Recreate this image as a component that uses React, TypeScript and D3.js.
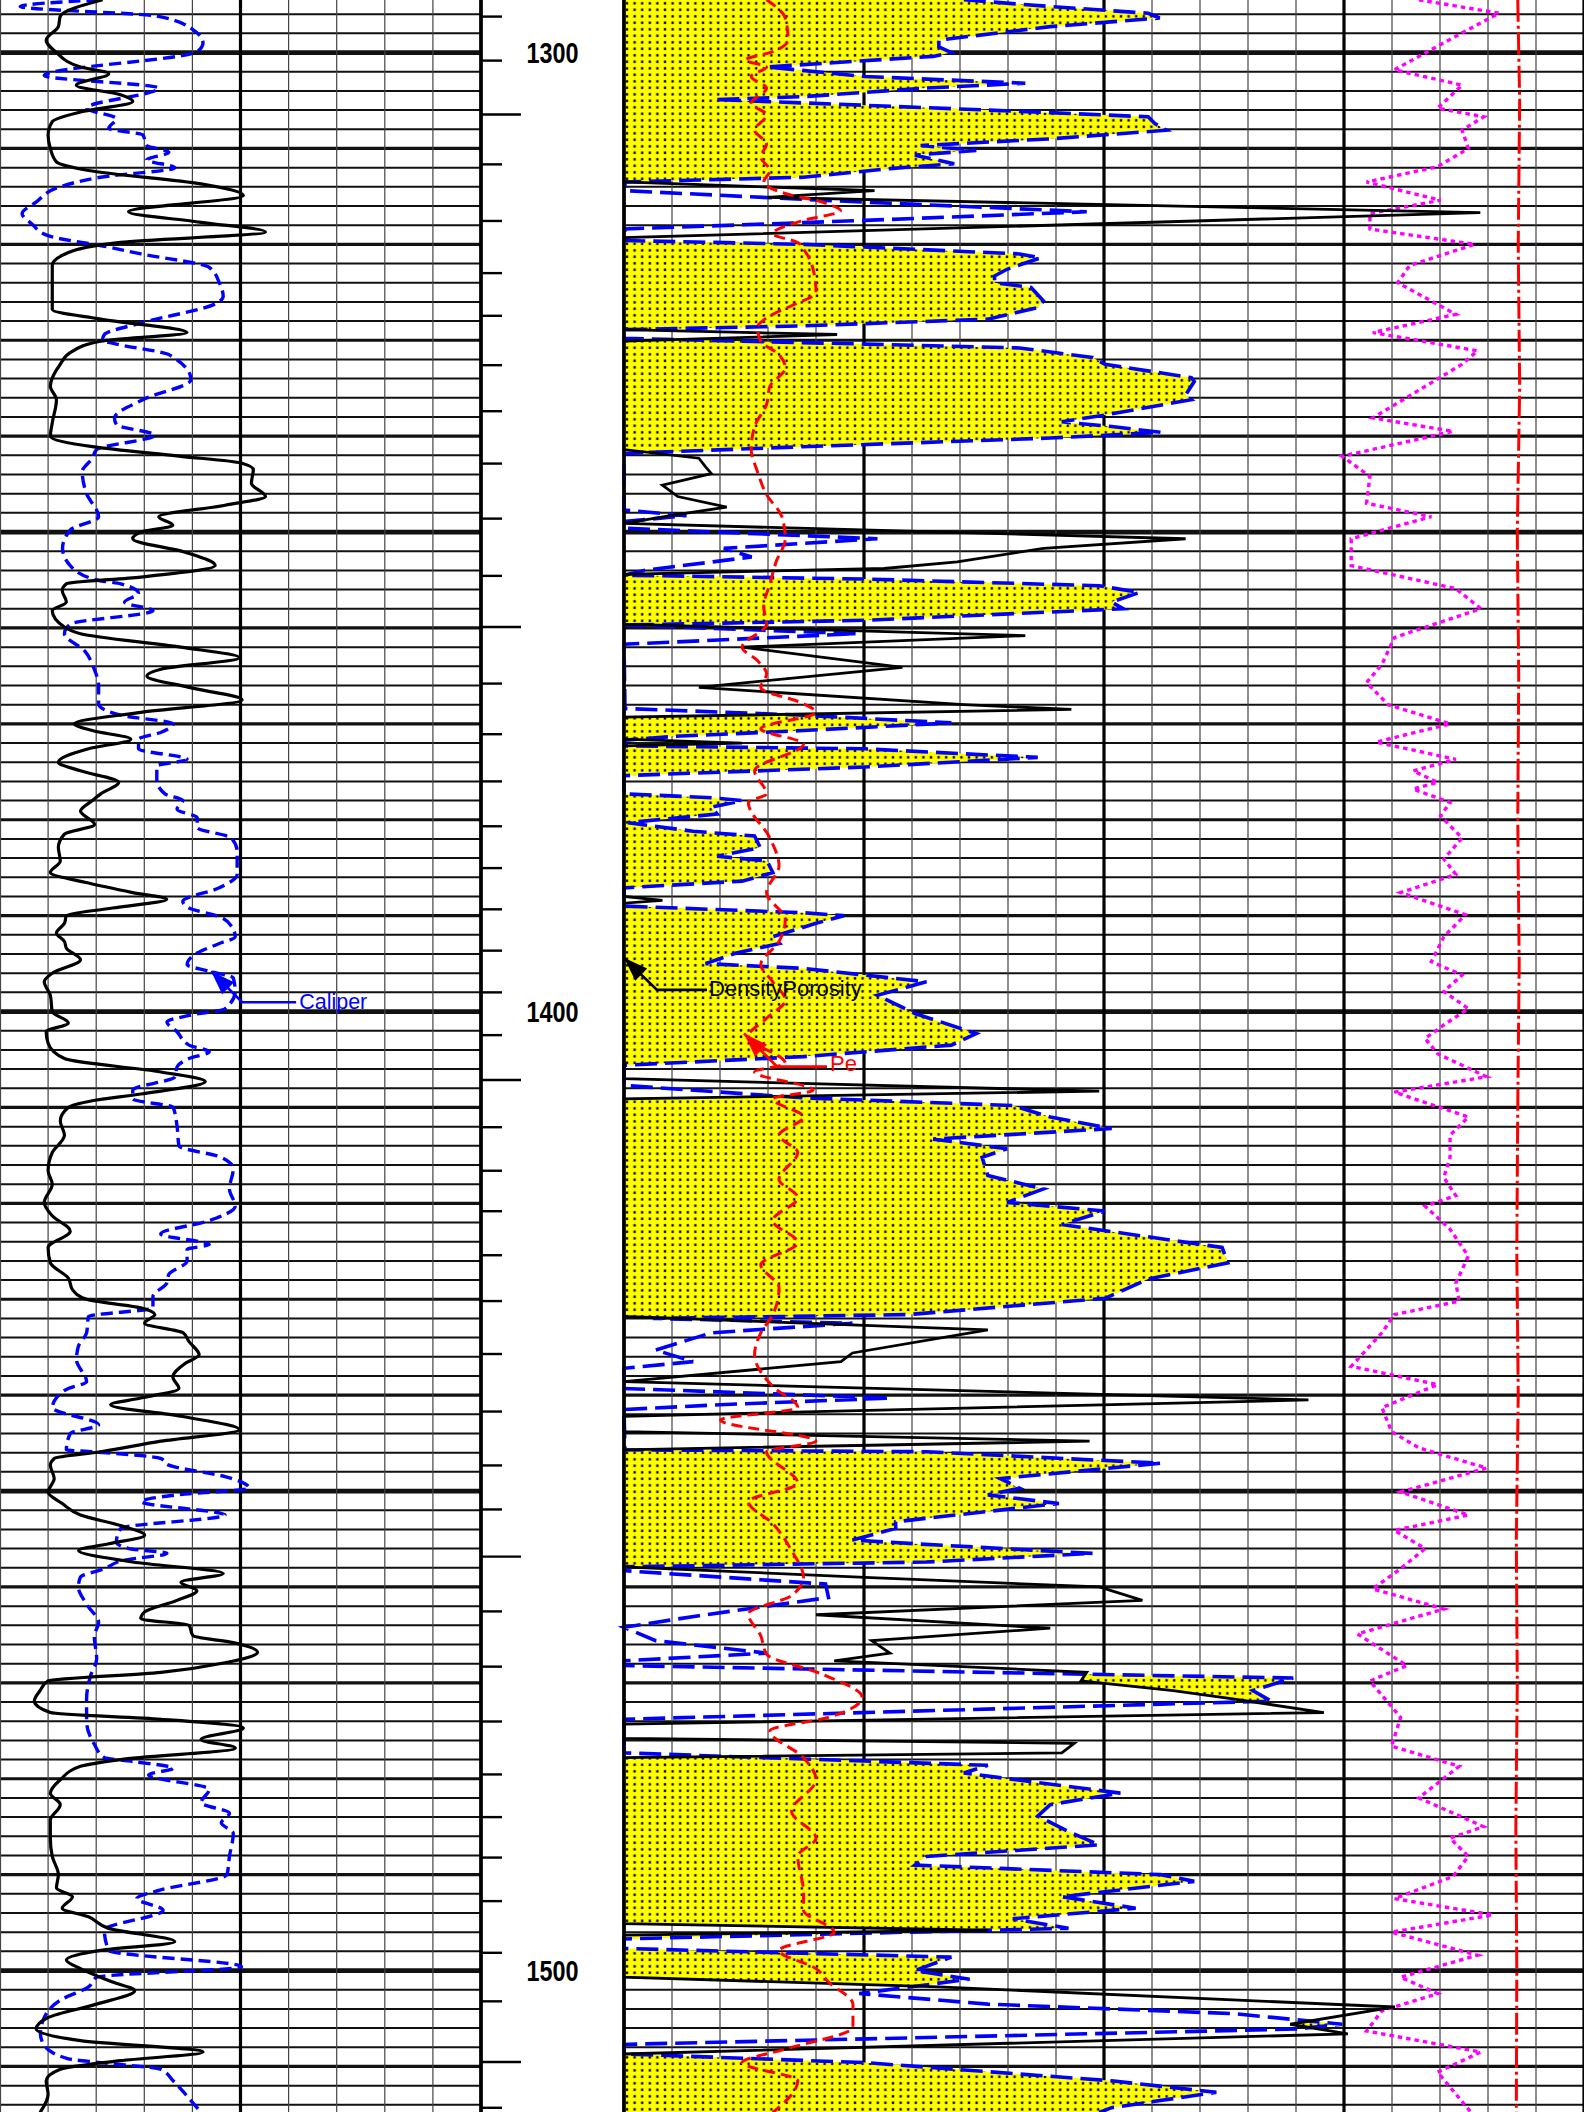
import React from 'react';
import * as d3 from 'd3';

const W = 1584;
const H = 2112;
const DEPTH_TOP = 1294.52;
const DEPTH_BOTTOM = 1514.75;

// ---------- Track 1 ----------
const gammaRay: [number, number][] = [
  [1294.5, 32.0], [1296.2, 18.8], [1297.3, 18.2], [1298.7, 14.4], [1300.0, 17.6], [1301.5, 25.1], [1302.2, 33.9],
  [1303.4, 23.8], [1304.4, 37.6], [1305.1, 41.4], [1306.2, 25.1], [1307.2, 16.3], [1308.6, 15.0], [1310.0, 15.7],
  [1311.4, 17.6], [1312.3, 27.6], [1313.7, 62.7], [1314.9, 75.9], [1316.6, 40.1], [1317.7, 62.7], [1318.7, 82.8],
  [1319.8, 37.6], [1320.7, 22.6], [1322.2, 16.3], [1324.5, 16.3], [1326.8, 16.3], [1327.8, 31.4], [1329.2, 58.3],
  [1330.1, 31.4], [1331.3, 21.9], [1332.5, 18.8], [1334.8, 15.7], [1336.2, 17.6], [1338.6, 16.3], [1340.0, 15.7],
  [1341.1, 28.8], [1342.1, 56.4], [1342.8, 75.2], [1343.5, 79.0], [1344.9, 78.4], [1346.3, 82.8], [1347.2, 70.2],
  [1348.4, 49.5], [1349.3, 53.9], [1350.0, 43.9], [1350.7, 41.4], [1352.1, 57.7], [1353.5, 67.1], [1354.7, 43.9],
  [1355.4, 20.7], [1356.1, 19.4], [1357.3, 20.7], [1358.2, 16.3], [1359.9, 20.1], [1360.6, 25.1], [1362.0, 56.4],
  [1363.1, 74.6], [1364.3, 50.2], [1365.0, 45.8], [1366.2, 58.9], [1367.5, 75.5], [1368.8, 43.9], [1370.0, 23.2],
  [1370.7, 28.8], [1371.6, 40.8], [1372.6, 27.6], [1374.0, 18.2], [1374.9, 25.1], [1376.1, 37.0], [1377.3, 31.4],
  [1378.0, 28.8], [1379.1, 25.1], [1380.5, 29.5], [1381.5, 20.1], [1382.9, 18.2], [1384.3, 18.8], [1385.5, 15.7],
  [1386.6, 27.6], [1387.6, 41.4], [1388.3, 52.0], [1389.2, 35.1], [1390.0, 20.7], [1390.8, 20.1], [1391.8, 17.6],
  [1392.7, 20.1], [1393.4, 20.7], [1394.6, 25.1], [1396.0, 16.3], [1396.9, 13.8], [1398.3, 15.7], [1400.0, 16.3],
  [1401.2, 21.3], [1402.1, 14.4], [1403.3, 15.0], [1404.9, 20.1], [1406.3, 50.2], [1407.3, 64.0], [1408.6, 43.9],
  [1409.3, 28.8], [1410.0, 21.3], [1411.4, 18.8], [1412.9, 20.1], [1414.7, 16.3], [1416.6, 15.0], [1418.0, 16.3],
  [1419.9, 13.8], [1421.3, 16.3], [1422.9, 21.9], [1424.6, 15.0], [1426.2, 15.7], [1427.8, 21.3], [1429.0, 22.6],
  [1430.0, 27.0], [1430.9, 43.9], [1431.6, 48.3], [1432.5, 45.1], [1433.5, 57.1], [1434.4, 58.9], [1435.8, 62.1],
  [1436.7, 57.7], [1438.1, 53.9], [1439.3, 55.8], [1440.3, 43.9], [1441.0, 34.5], [1442.2, 56.4], [1443.6, 74.6],
  [1444.8, 50.2], [1445.9, 31.4], [1446.6, 16.9], [1447.3, 15.7], [1448.7, 16.9], [1450.1, 15.0], [1451.3, 19.4],
  [1452.5, 25.1], [1453.6, 37.6], [1454.6, 45.1], [1455.5, 33.9], [1456.2, 24.5], [1457.4, 41.4], [1458.6, 69.6],
  [1459.5, 56.4], [1460.4, 61.4], [1461.4, 55.2], [1462.6, 45.1], [1463.3, 43.9], [1464.0, 58.9], [1465.1, 60.2],
  [1465.8, 72.7], [1466.8, 80.3], [1467.9, 70.2], [1468.9, 50.2], [1469.8, 15.0], [1470.8, 12.5], [1471.9, 10.7],
  [1473.1, 15.7], [1473.8, 50.2], [1474.7, 75.9], [1475.9, 62.7], [1476.8, 73.4], [1478.0, 37.6], [1478.7, 25.1],
  [1480.1, 18.8], [1481.5, 15.7], [1482.7, 18.8], [1484.3, 15.7], [1486.2, 15.7], [1488.1, 16.3], [1490.0, 18.2],
  [1491.4, 17.6], [1492.3, 22.6], [1493.5, 19.4], [1494.4, 27.6], [1495.6, 33.9], [1497.0, 54.5], [1497.9, 31.4],
  [1498.9, 20.7], [1499.8, 25.1], [1501.2, 35.1], [1502.1, 42.0], [1503.5, 30.1], [1504.9, 15.0], [1506.1, 11.3],
  [1507.3, 25.1], [1508.5, 63.3], [1509.4, 37.6], [1510.3, 18.8], [1511.5, 14.4], [1512.9, 15.0], [1514.8, 12.5],
];

const caliper: [number, number][] = [
  [1294.5, 8.05], [1295.2, 6.42], [1296.2, 9.26], [1297.6, 10.01], [1299.0, 10.22], [1299.9, 10.10], [1302.4, 6.92],
  [1303.7, 9.30], [1305.8, 7.80], [1306.9, 8.42], [1307.9, 8.26], [1308.6, 8.97], [1309.7, 9.05], [1310.4, 9.51],
  [1311.2, 9.05], [1312.0, 9.64], [1313.0, 8.09], [1314.0, 7.25], [1315.6, 6.75], [1316.8, 6.46], [1317.9, 6.67],
  [1319.1, 7.00], [1320.2, 8.17], [1321.0, 8.93], [1322.4, 10.35], [1324.0, 10.56], [1325.4, 10.64], [1326.1, 10.52],
  [1328.2, 8.93], [1329.4, 8.17], [1330.0, 8.13], [1330.4, 8.42], [1331.5, 9.51], [1334.1, 9.97], [1336.2, 8.97],
  [1338.1, 8.38], [1338.8, 8.42], [1339.9, 9.22], [1341.4, 8.01], [1342.3, 7.92], [1343.7, 7.71], [1346.0, 7.80],
  [1348.4, 8.05], [1349.8, 7.46], [1351.7, 7.30], [1353.5, 7.46], [1355.0, 8.01], [1355.4, 8.51], [1356.4, 8.88],
  [1357.3, 8.59], [1358.2, 9.18], [1359.6, 7.46], [1360.6, 7.34], [1362.4, 7.76], [1364.3, 7.96], [1366.0, 8.05],
  [1367.9, 8.05], [1369.1, 8.51], [1370.0, 9.60], [1370.9, 9.34], [1371.6, 8.88], [1372.6, 8.88], [1373.7, 9.89],
  [1374.4, 9.26], [1375.9, 9.26], [1377.3, 9.43], [1378.0, 9.80], [1378.9, 9.68], [1379.8, 10.10], [1380.8, 10.10],
  [1381.9, 10.81], [1383.3, 10.93], [1385.7, 10.93], [1387.1, 10.56], [1388.5, 9.80], [1389.2, 9.93], [1390.1, 10.56],
  [1391.1, 10.81], [1392.2, 10.89], [1392.9, 10.56], [1393.9, 10.10], [1395.1, 9.89], [1395.8, 10.35], [1396.5, 10.85],
  [1397.9, 10.89], [1399.7, 10.68], [1400.4, 9.93], [1401.1, 9.47], [1402.1, 9.68], [1403.5, 9.93], [1404.2, 10.35],
  [1404.9, 9.93], [1405.8, 9.68], [1406.8, 9.64], [1408.2, 8.76], [1409.1, 8.76], [1410.0, 9.60], [1411.9, 9.68],
  [1414.0, 9.72], [1415.2, 10.60], [1416.4, 10.85], [1418.5, 10.77], [1420.3, 10.89], [1421.8, 10.35], [1423.2, 9.34],
  [1424.3, 10.35], [1424.8, 9.89], [1426.0, 9.89], [1427.4, 9.51], [1428.3, 9.47], [1429.7, 9.18], [1430.9, 9.18],
  [1431.8, 7.84], [1433.5, 7.80], [1434.9, 7.63], [1436.3, 7.59], [1438.6, 7.80], [1439.3, 7.42], [1440.3, 7.17],
  [1441.3, 7.09], [1443.1, 8.05], [1444.0, 7.46], [1445.7, 7.38], [1445.9, 7.92], [1446.6, 9.34], [1447.3, 9.51],
  [1448.5, 10.68], [1449.7, 11.18], [1450.4, 9.68], [1451.1, 8.93], [1452.5, 10.68], [1453.9, 8.51], [1455.3, 8.42],
  [1456.0, 8.68], [1456.5, 9.47], [1457.2, 8.59], [1458.1, 8.17], [1459.0, 7.67], [1460.0, 7.63], [1461.8, 7.80],
  [1463.7, 8.05], [1465.1, 7.96], [1467.5, 8.01], [1469.3, 7.88], [1471.7, 7.80], [1474.0, 7.80], [1476.4, 7.96],
  [1477.8, 8.17], [1478.2, 8.76], [1478.9, 9.60], [1479.6, 9.09], [1481.1, 10.35], [1482.5, 10.18], [1483.6, 10.77],
  [1484.6, 10.60], [1485.7, 10.85], [1488.1, 10.77], [1490.0, 10.72], [1491.6, 9.34], [1492.5, 8.84], [1493.7, 9.39],
  [1495.8, 8.17], [1497.9, 8.26], [1499.6, 11.02], [1500.7, 8.01], [1501.7, 7.84], [1503.1, 7.25], [1504.9, 6.92],
  [1506.6, 6.84], [1507.8, 6.92], [1509.2, 7.42], [1509.6, 8.09], [1510.3, 9.34], [1511.5, 9.60], [1513.8, 10.01],
  [1514.8, 10.18],
];

// ---------- Track 2 ----------
const densityPorosity: [number, number][] = [
  [1294.5, 0], [1313.5, 0], [1314.4, 26.1], [1315.1, 14.9], [1316.7, 89.2], [1319.3, 0], [1328.9, 0], [1329.4, 22.2],
  [1330.1, 0], [1341.4, 0], [1342.3, 7.8], [1343.2, 8.5], [1343.9, 9.1], [1345.1, 4.0], [1346.3, 5.6], [1347.4, 10.7],
  [1348.2, 5.3], [1349.1, 0], [1350.7, 58.5], [1351.7, 43.7], [1353.1, 34.7], [1353.8, 27.1], [1354.4, 0],
  [1359.6, 0], [1360.8, 41.8], [1362.0, 12.3], [1364.1, 29.0], [1366.2, 7.8], [1368.0, 35.4], [1368.5, 46.6],
  [1369.3, 0], [1371.6, 0], [1372.0, 12.3], [1372.3, 0], [1388.0, 0], [1388.4, 4.0], [1388.7, 0], [1407.0, 0],
  [1408.3, 49.5], [1409.1, 0], [1431.8, 0], [1433.2, 37.9], [1435.6, 23.8], [1436.5, 22.6], [1438.6, 0],
  [1440.5, 71.3], [1442.2, 0], [1443.8, 0], [1444.8, 48.5], [1445.7, 0], [1457.9, 0], [1459.0, 25.1], [1460.0, 49.5],
  [1461.4, 54.0], [1462.9, 20.0], [1464.3, 44.4], [1465.6, 25.8], [1466.9, 27.7], [1467.7, 21.9], [1468.9, 48.2],
  [1469.8, 47.6], [1470.8, 57.2], [1471.7, 63.6], [1473.1, 72.9], [1474.3, 0], [1475.8, 0], [1476.3, 46.9],
  [1477.3, 45.6], [1477.8, 0], [1495.1, 0], [1495.8, 37.9], [1496.3, 0], [1500.7, 0], [1501.7, 32.8], [1503.8, 80.3],
  [1505.6, 69.4], [1506.6, 75.4], [1508.7, 0], [1514.8, 0],
];

const neutronPorosity: [number, number][] = [
  [1294.5, 35.4], [1295.2, 44.4], [1295.9, 54.6], [1296.4, 55.8], [1297.3, 44.4], [1298.7, 32.8], [1299.4, 32.8],
  [1300.0, 34.1], [1300.4, 32.2], [1301.5, 14.9], [1302.5, 25.1], [1303.2, 41.8], [1303.7, 31.5], [1304.6, 18.7],
  [1304.9, 9.4], [1305.5, 25.1], [1306.0, 37.9], [1306.7, 54.6], [1307.4, 55.3], [1308.1, 56.5], [1309.0, 44.4],
  [1309.7, 30.9], [1310.2, 36.7], [1310.7, 30.3], [1311.6, 34.4], [1312.1, 27.7], [1313.0, 18.7], [1313.5, 0.1],
  [1314.4, 0.1], [1315.4, 20.6], [1316.1, 36.7], [1316.6, 48.2], [1317.5, 25.1], [1318.4, 0.1], [1319.6, 0],
  [1320.0, 18.7], [1321.0, 41.2], [1321.4, 43.4], [1322.6, 39.9], [1323.3, 38.6], [1324.0, 38.6], [1324.5, 42.4],
  [1325.9, 43.7], [1326.6, 43.1], [1327.8, 37.9], [1328.5, 18.7], [1328.9, 0], [1329.8, 0], [1330.4, 25.1],
  [1330.8, 41.2], [1331.8, 48.8], [1332.5, 50.1], [1333.9, 59.1], [1334.3, 59.4], [1335.7, 58.5], [1336.2, 59.1],
  [1337.8, 50.1], [1338.5, 45.6], [1339.0, 50.8], [1339.6, 55.9], [1340.2, 44.4], [1341.1, 18.7], [1341.8, 0],
  [1347.7, 0], [1348.3, 6.5], [1348.9, 0.1], [1349.6, 0.1], [1350.7, 26.4], [1351.7, 10.4], [1352.6, 13.3],
  [1354.0, 2.1], [1354.5, 0], [1354.9, 25.1], [1355.6, 49.5], [1356.3, 53.7], [1357.3, 50.8], [1358.0, 52.0],
  [1359.2, 25.1], [1359.7, 0], [1360.6, 24.2], [1361.7, 0], [1368.4, 0.1], [1369.1, 18.7], [1369.9, 34.1],
  [1370.7, 18.7], [1371.3, 5.3], [1371.7, 0.1], [1372.3, 0.1], [1372.6, 25.1], [1373.5, 43.1], [1374.5, 25.1],
  [1375.4, 0], [1377.3, 0], [1377.7, 9.1], [1378.0, 12.3], [1378.7, 9.1], [1379.4, 9.7], [1380.3, 0.4], [1381.2, 7.2],
  [1381.7, 13.6], [1382.9, 14.2], [1383.8, 9.7], [1384.3, 14.9], [1385.5, 15.5], [1386.4, 12.3], [1387.1, 0],
  [1389.0, 0], [1389.7, 18.7], [1390.0, 22.9], [1390.8, 20.0], [1392.2, 15.5], [1392.9, 16.2], [1393.9, 11.7],
  [1395.0, 8.5], [1395.5, 18.7], [1396.9, 31.5], [1398.3, 26.4], [1400.2, 30.3], [1402.3, 36.7], [1403.5, 34.1],
  [1404.7, 18.7], [1405.6, 0], [1407.7, 0], [1409.0, 18.7], [1409.8, 40.5], [1411.0, 44.4], [1412.2, 50.8],
  [1413.3, 32.2], [1414.3, 39.9], [1415.2, 37.3], [1417.1, 37.9], [1418.5, 43.7], [1419.9, 39.9], [1420.8, 50.1],
  [1422.2, 45.6], [1424.6, 62.3], [1426.2, 62.9], [1427.9, 54.6], [1429.9, 50.1], [1431.6, 29.6], [1432.0, 3.0],
  [1432.5, 23.8], [1433.5, 9.1], [1435.3, 3.3], [1436.5, 7.2], [1437.2, 0], [1439.3, 0], [1440.3, 27.7],
  [1441.0, 10.0], [1441.5, 0], [1445.7, 0.1], [1445.9, 31.5], [1447.1, 55.9], [1448.7, 39.2], [1449.7, 41.2],
  [1450.4, 37.9], [1451.3, 45.3], [1453.2, 28.3], [1453.9, 28.3], [1455.1, 23.8], [1455.5, 30.3], [1456.5, 48.8],
  [1457.4, 31.5], [1457.9, 0], [1458.3, 0], [1459.7, 21.0], [1461.1, 21.3], [1463.0, 7.8], [1464.2, 0], [1465.6, 3.3],
  [1466.9, 14.9], [1467.7, 0], [1468.2, 0], [1469.5, 69.7], [1470.8, 65.5], [1471.9, 67.4], [1473.8, 0], [1477.3, 0],
  [1478.6, 37.9], [1479.4, 35.4], [1481.5, 51.7], [1482.7, 44.4], [1483.9, 43.1], [1485.5, 46.3], [1486.9, 49.5],
  [1488.1, 31.5], [1489.0, 30.3], [1490.0, 55.9], [1490.7, 59.4], [1492.3, 45.6], [1493.5, 53.3], [1494.6, 40.5],
  [1495.6, 46.3], [1496.7, 0], [1497.7, 0], [1498.2, 18.7], [1498.6, 34.1], [1500.0, 30.3], [1500.9, 36.0],
  [1502.4, 24.5], [1503.5, 37.9], [1504.5, 63.6], [1505.6, 74.8], [1506.1, 70.0], [1507.7, 0], [1508.7, 0],
  [1509.6, 25.1], [1511.5, 50.8], [1512.7, 61.7], [1514.3, 50.8], [1514.8, 49.5],
];

const photoElectric: [number, number][] = [
  [1294.5, 2.97], [1296.4, 3.36], [1298.7, 3.42], [1299.9, 3.10], [1300.8, 2.53], [1301.5, 2.97], [1302.5, 2.65],
  [1303.7, 2.97], [1305.3, 2.65], [1306.5, 2.97], [1308.1, 2.72], [1309.5, 2.97], [1310.9, 2.85], [1312.3, 3.04],
  [1313.5, 2.91], [1314.7, 3.36], [1315.6, 4.13], [1316.5, 4.51], [1317.5, 3.74], [1318.9, 3.10], [1319.8, 3.62],
  [1320.5, 3.74], [1322.6, 3.94], [1325.0, 4.00], [1326.4, 3.49], [1327.3, 3.10], [1328.7, 2.78], [1330.1, 2.85],
  [1331.5, 3.23], [1332.9, 3.36], [1334.8, 3.04], [1336.7, 2.97], [1339.0, 2.72], [1341.4, 2.65], [1343.7, 2.78],
  [1346.1, 2.97], [1348.4, 3.29], [1350.7, 3.36], [1353.1, 3.17], [1355.4, 3.04], [1357.8, 2.91], [1359.6, 2.97],
  [1362.0, 2.46], [1363.4, 2.78], [1364.8, 2.97], [1366.2, 2.85], [1367.9, 3.74], [1368.8, 4.00], [1370.5, 2.85],
  [1372.1, 3.74], [1374.9, 2.72], [1377.3, 2.97], [1378.2, 2.59], [1381.9, 3.04], [1384.8, 3.23], [1387.6, 2.97],
  [1390.4, 3.36], [1392.7, 3.23], [1395.1, 2.85], [1396.9, 3.10], [1398.8, 3.36], [1400.7, 2.97], [1402.6, 2.59],
  [1405.4, 3.36], [1406.3, 2.72], [1408.2, 3.94], [1409.1, 3.10], [1411.0, 3.74], [1412.9, 3.23], [1414.7, 3.62],
  [1417.5, 3.23], [1419.4, 3.62], [1421.8, 3.10], [1424.1, 3.62], [1426.4, 2.85], [1428.8, 3.23], [1431.6, 3.10],
  [1433.5, 2.85], [1435.8, 2.72], [1439.1, 3.10], [1441.3, 3.62], [1442.6, 2.01], [1444.8, 4.00], [1445.9, 2.97],
  [1449.2, 3.62], [1451.1, 2.59], [1453.4, 3.10], [1456.2, 3.49], [1459.0, 3.74], [1460.9, 3.49], [1462.8, 2.59],
  [1465.1, 2.85], [1467.0, 2.97], [1469.1, 4.13], [1471.5, 4.96], [1473.6, 4.26], [1475.0, 3.04], [1477.8, 3.74],
  [1480.1, 4.00], [1483.4, 3.49], [1486.2, 4.00], [1488.1, 3.62], [1491.8, 3.74], [1493.7, 3.74], [1496.0, 4.38],
  [1497.9, 3.23], [1499.8, 4.00], [1501.2, 4.26], [1503.5, 4.77], [1505.9, 4.77], [1508.2, 3.36], [1509.6, 2.46],
  [1511.5, 3.62], [1514.8, 3.10],
];

const resistivity: [number, number][] = [
  [1294.5, 16.56], [1295.9, 18.23], [1298.3, 17.33], [1301.8, 16.05], [1303.4, 17.46], [1305.8, 16.95], [1306.7, 17.91],
  [1308.1, 17.46], [1310.0, 17.59], [1311.9, 16.95], [1313.5, 15.47], [1315.4, 17.01], [1316.8, 15.54], [1318.4, 15.54],
  [1320.0, 17.72], [1322.2, 16.37], [1324.0, 16.12], [1327.3, 17.33], [1329.2, 15.60], [1331.1, 17.78], [1332.5, 17.46],
  [1338.1, 15.60], [1339.5, 17.27], [1342.1, 14.96], [1344.2, 15.54], [1347.0, 15.47], [1348.4, 16.82], [1350.7, 15.15],
  [1353.5, 15.15], [1355.9, 17.33], [1358.0, 17.85], [1361.0, 16.05], [1363.8, 15.79], [1365.7, 15.47], [1368.0, 15.92],
  [1370.0, 17.21], [1371.9, 15.67], [1373.7, 17.33], [1374.9, 16.44], [1376.1, 16.95], [1376.8, 16.44], [1378.2, 17.21],
  [1379.6, 17.01], [1381.9, 17.46], [1384.1, 17.08], [1385.7, 17.33], [1387.6, 16.18], [1389.9, 17.53], [1392.2, 17.08],
  [1394.8, 16.82], [1396.2, 17.46], [1397.9, 17.08], [1399.7, 17.59], [1401.4, 17.08], [1402.8, 16.69], [1404.4, 16.95],
  [1406.8, 17.97], [1408.4, 16.05], [1411.0, 17.59], [1412.9, 17.21], [1415.2, 17.21], [1417.3, 17.08], [1419.2, 17.33],
  [1420.3, 16.69], [1422.7, 17.21], [1425.5, 17.59], [1428.3, 17.33], [1430.2, 17.40], [1431.6, 16.05], [1433.5, 15.79],
  [1437.0, 15.15], [1438.9, 16.95], [1441.3, 15.79], [1443.8, 15.99], [1445.5, 16.56], [1447.6, 17.97], [1450.1, 16.18],
  [1452.5, 17.59], [1454.1, 16.05], [1456.0, 16.69], [1458.1, 16.18], [1460.2, 15.60], [1462.3, 17.08], [1464.9, 15.28],
  [1468.2, 16.31], [1469.8, 15.54], [1473.6, 16.18], [1476.6, 15.99], [1478.7, 17.40], [1482.0, 16.56], [1485.0, 17.91],
  [1486.2, 17.21], [1488.1, 17.59], [1490.2, 17.27], [1492.5, 16.05], [1494.2, 18.10], [1496.0, 15.99], [1498.4, 17.78],
  [1500.7, 16.18], [1502.4, 16.95], [1504.2, 15.79], [1506.3, 15.47], [1508.5, 17.85], [1510.6, 16.95], [1514.8, 17.65],
];

const temperature: [number, number][] = [
  [1294.5, 18.62], [1305.0, 18.66], [1320.0, 18.63], [1335.0, 18.66], [1350.0, 18.61], [1365.0, 18.64],
  [1380.0, 18.62], [1395.0, 18.65], [1410.0, 18.62], [1425.0, 18.60], [1440.0, 18.63], [1455.0, 18.59],
  [1470.0, 18.61], [1485.0, 18.58], [1500.0, 18.60], [1514.8, 18.59],
];

// ---------- Depth track ----------
const depthLabels = [1300, 1400, 1500];
const tvdTickDepths = [
  1296.25, 1300.84, 1306.46, 1311.66, 1317.56, 1323.0, 1327.45, 1332.6, 1337.4, 1342.86, 1348.6, 1354.57, 1359.9,
  1365.8, 1371.08, 1376.0, 1380.68, 1385.04, 1389.34, 1393.65, 1398.0, 1402.46, 1407.14, 1412.06, 1416.6, 1420.82,
  1425.41, 1430.19, 1435.71, 1441.71, 1447.33, 1451.92, 1456.84, 1462.55, 1468.31, 1474.03, 1479.55, 1484.0,
  1488.22, 1492.76, 1498.15, 1503.21, 1509.53, 1514.31,
];
const tvdMajorTicks = [1306.46, 1359.9, 1407.14, 1456.84, 1509.53];

// annotation anchors [depth, value]
const caliperNote: [number, number] = [1395.8, 10.39];
const densityNote: [number, number] = [1394.4, 0];
const peNote: [number, number] = [1402.3, 2.5];

const T1 = [0, 481];
const T2 = [624, 1584];

function arrowHead(tx: number, ty: number, fx: number, fy: number, len = 24, half = 8.5) {
  const dx = tx - fx, dy = ty - fy;
  const L = Math.hypot(dx, dy) || 1;
  const ux = dx / L, uy = dy / L;
  const bx = tx - ux * len, by = ty - uy * len;
  return `${tx},${ty} ${bx - uy * half},${by + ux * half} ${bx + uy * half},${by - ux * half}`;
}

export default function App() {
  const y = d3.scaleLinear().domain([DEPTH_TOP, DEPTH_BOTTOM]).range([0, H]);
  const xGR = d3.scaleLinear().domain([0, 150]).range(T1);
  const xCal = d3.scaleLinear().domain([6, 16]).range(T1);
  const xPor = d3.scaleLinear().domain([0, 100]).range(T2);
  const xPe = d3.scaleLinear().domain([0, 20]).range(T2);
  const xRes = d3.scaleLinear().domain([0, 20]).range(T2);
  const xTemp = d3.scaleLinear().domain([0, 20]).range(T2);

  const lineOf = (xs: d3.ScaleLinear<number, number>, curve: d3.CurveFactory) =>
    d3.line<[number, number]>().x((d) => xs(d[1])).y((d) => y(d[0])).curve(curve);

  const grPath = lineOf(xGR, d3.curveMonotoneY)(gammaRay) || '';
  const calPath = lineOf(xCal, d3.curveMonotoneY)(caliper) || '';
  const dpPath = lineOf(xPor, d3.curveLinear)(densityPorosity) || '';
  const npPath = lineOf(xPor, d3.curveLinear)(neutronPorosity) || '';
  const pePath = lineOf(xPe, d3.curveMonotoneY)(photoElectric) || '';
  const resPath = lineOf(xRes, d3.curveLinear)(resistivity) || '';
  const tempPath = lineOf(xTemp, d3.curveLinear)(temperature) || '';

  const fillArea = d3.area<[number, number]>().y((d) => y(d[0])).x0(T2[0]).x1((d) => xPor(d[1]))(neutronPorosity) || '';
  const clipArea = d3.area<[number, number]>().y((d) => y(d[0])).x0((d) => xPor(d[1])).x1(T2[1] + 5)(densityPorosity) || '';

  const gridDepths = d3.range(1294, 1516, 2).filter((d) => d >= DEPTH_TOP - 1 && d <= DEPTH_BOTTOM + 1);
  const hWidth = (d: number) => (d % 50 === 0 ? 4.8 : d % 10 === 0 ? 3.2 : 2);

  const t1Lines = d3.range(0, 11).map((i) => xGR(i * 15));
  const t2Lines = d3.range(0, 21).map((i) => xPe(i));

  // annotations
  const cTip = [xCal(caliperNote[1]), y(caliperNote[0])];
  const cCorner = [cTip[0] + 31, cTip[1] + 31];
  const dTip = [xPor(densityNote[1]), y(densityNote[0])];
  const dCorner = [dTip[0] + 33, dTip[1] + 32];
  const pTip = [xPe(peNote[1]), y(peNote[0])];
  const pCorner = [pTip[0] + 33, pTip[1] + 33];

  const depthMid = (T1[1] + T2[0]) / 2;

  return (
    <svg
      width={W}
      height={H}
      viewBox={`0 0 ${W} ${H}`}
      style={{ position: 'absolute', left: 0, top: 0, display: 'block', background: '#ffffff' }}
    >
      <defs>
        <pattern id="dots" width="7.6" height="6.5" patternUnits="userSpaceOnUse">
          <rect width="7.6" height="6.5" fill="#ffff00" />
          <rect x="2.6" y="2.1" width="2.4" height="2.4" fill="#000000" />
        </pattern>
        <clipPath id="dpClip">
          <path d={clipArea} />
        </clipPath>
      </defs>
      <rect x={0} y={0} width={W} height={H} fill="#ffffff" />

      {/* horizontal grid */}
      <g>
        {gridDepths.map((d) => (
          <g key={`h${d}`}>
            <line x1={T1[0]} x2={T1[1]} y1={y(d)} y2={y(d)} stroke="#111" strokeWidth={hWidth(d)} />
            <line x1={T2[0]} x2={T2[1]} y1={y(d)} y2={y(d)} stroke="#111" strokeWidth={hWidth(d)} />
          </g>
        ))}
      </g>
      {/* vertical grid */}
      <g>
        {t1Lines.map((x, i) => (
          <line
            key={`v1${i}`}
            x1={i === 0 ? x + 0.5 : x}
            x2={i === 0 ? x + 0.5 : x}
            y1={0}
            y2={H}
            stroke={i % 5 === 0 && i > 0 ? '#000' : '#444'}
            strokeWidth={i % 5 === 0 && i > 0 ? 3.2 : 1.2}
          />
        ))}
        {t2Lines.map((x, i) => (
          <line
            key={`v2${i}`}
            x1={x}
            x2={x}
            y1={0}
            y2={H}
            stroke={i % 5 === 0 ? '#000' : '#444'}
            strokeWidth={i % 5 === 0 ? 3.2 : 1.2}
          />
        ))}
      </g>

      {/* depth track */}
      <g>
        {tvdTickDepths.map((d) => (
          <line
            key={`t${d}`}
            x1={T1[1]}
            x2={T1[1] + (tvdMajorTicks.includes(d) ? 40 : 21)}
            y1={y(d)}
            y2={y(d)}
            stroke="#000"
            strokeWidth={2.4}
          />
        ))}
        {depthLabels.map((d) => (
          <text
            key={`l${d}`}
            x={depthMid}
            y={y(d) + 10}
            textAnchor="middle"
            fontFamily="'Liberation Sans Narrow', 'Arial Narrow', 'Liberation Sans', Arial, sans-serif"
            fontWeight="bold"
            fontSize={30}
            textLength={52}
            lengthAdjust="spacingAndGlyphs"
            fill="#000"
          >
            {d}
          </text>
        ))}
      </g>

      {/* track 1 curves */}
      <path d={calPath} fill="none" stroke="#0000ff" strokeWidth={3.4} strokeDasharray="12,6" />
      <path d={grPath} fill="none" stroke="#000" strokeWidth={3.2} />

      {/* track 2 fill and curves */}
      <path d={fillArea} fill="url(#dots)" clipPath="url(#dpClip)" />
      <path d={tempPath} fill="none" stroke="#ff0000" strokeWidth={3} strokeDasharray="22,4,3,4" />
      <path d={resPath} fill="none" stroke="#ff00ff" strokeWidth={3.4} strokeDasharray="4.5,4" />
      <path d={npPath} fill="none" stroke="#0000ff" strokeWidth={3.6} strokeDasharray="22,8" />
      <path d={dpPath} fill="none" stroke="#000" strokeWidth={2.8} />
      <path d={pePath} fill="none" stroke="#ff0000" strokeWidth={3} strokeDasharray="11,6" />

      {/* borders on top */}
      <line x1={T1[1]} x2={T1[1]} y1={0} y2={H} stroke="#000" strokeWidth={3.4} />
      <line x1={T2[0]} x2={T2[0]} y1={0} y2={H} stroke="#000" strokeWidth={3.4} />

      {/* annotations */}
      <g fontFamily="'Liberation Sans', Arial, sans-serif">
        <polyline
          points={`${cTip[0]},${cTip[1]} ${cCorner[0]},${cCorner[1]} ${cCorner[0] + 54},${cCorner[1]}`}
          fill="none"
          stroke="#0000ff"
          strokeWidth={2.6}
        />
        <polygon points={arrowHead(cTip[0], cTip[1], cCorner[0], cCorner[1])} fill="#0000ff" />
        <text x={cCorner[0] + 57} y={cCorner[1] + 7} fontSize={21.5} fill="#0000ff">
          Caliper
        </text>

        <polyline
          points={`${dTip[0]},${dTip[1]} ${dCorner[0]},${dCorner[1]} ${dCorner[0] + 50},${dCorner[1]}`}
          fill="none"
          stroke="#000"
          strokeWidth={2.6}
        />
        <polygon points={arrowHead(dTip[0], dTip[1], dCorner[0], dCorner[1])} fill="#000" />
        <text x={dCorner[0] + 52} y={dCorner[1] + 6} fontSize={22} fill="#000">
          DensityPorosity
        </text>

        <polyline
          points={`${pTip[0]},${pTip[1]} ${pCorner[0]},${pCorner[1]} ${pCorner[0] + 50},${pCorner[1]}`}
          fill="none"
          stroke="#ff0000"
          strokeWidth={2.8}
        />
        <polygon points={arrowHead(pTip[0], pTip[1], pCorner[0], pCorner[1])} fill="#ff0000" />
        <text x={pCorner[0] + 53} y={pCorner[1] + 4} fontSize={22} fill="#ff0000">
          Pe
        </text>
      </g>
    </svg>
  );
}
